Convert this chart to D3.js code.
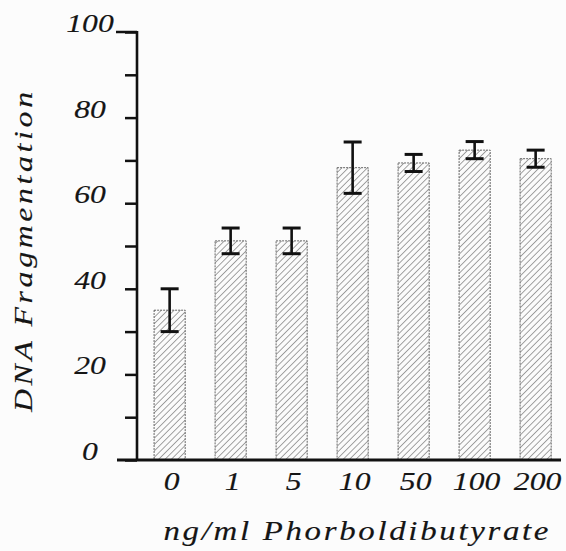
<!DOCTYPE html>
<html><head><meta charset="utf-8">
<script src="https://cdn.jsdelivr.net/npm/d3@7"></script>
<style>
html,body{margin:0;padding:0;background:#fcfcfc;}
text{font-family:"Liberation Serif",serif;font-style:italic;fill:#151515;stroke:#151515;stroke-width:0.15px;}
</style></head>
<body><svg id="c" width="566" height="551"></svg>
<script>
const categories = ["0","1","5","10","50","100","200"];
const values = [35.0, 51.2, 51.2, 68.3, 69.4, 72.4, 70.4];
const errors = [5.0, 3.0, 3.0, 6.0, 2.0, 2.0, 2.0];
const yTickValues = [0,10,20,30,40,50,60,70,80,90,100];
const yTickLabels = [0,20,40,60,80,100];
const yTitle = "DNA  Fragmentation";
const xTitle = "ng/ml  Phorboldibutyrate";

const svg = d3.select("#c");
const y = d3.scaleLinear().domain([0,100]).range([460,32]);
const x = d3.scaleBand().domain(categories).range([137, 137 + 61*7.07]).paddingInner(0.49).paddingOuter(0.28);
const SX = 1.22; // horizontal widening of glyphs

// hatch pattern
const defs = svg.append("defs");
const pat = defs.append("pattern").attr("id","hatch").attr("patternUnits","userSpaceOnUse")
  .attr("width",4.5).attr("height",4.5).attr("patternTransform","rotate(45)");
pat.append("rect").attr("width",4.5).attr("height",4.5).attr("fill","#fbfbfb");
pat.append("line").attr("x1",0).attr("y1",0).attr("x2",0).attr("y2",4.5)
  .attr("stroke","#5a5a5a").attr("stroke-width",1.1);

// bars
svg.append("g").selectAll("rect").data(values).join("rect")
  .attr("x",(d,i)=>x(categories[i]))
  .attr("y",d=>y(d))
  .attr("width",x.bandwidth())
  .attr("height",d=>y(0)-y(d))
  .attr("fill","url(#hatch)")
  .attr("stroke","#666").attr("stroke-width",1).attr("stroke-dasharray","2,1");

// error bars
const eb = svg.append("g").attr("stroke","#111").attr("fill","none");
values.forEach((v,i)=>{
  const cx = x(categories[i]) + x.bandwidth()/2;
  eb.append("line").attr("x1",cx).attr("x2",cx).attr("y1",y(v+errors[i])).attr("y2",y(v-errors[i])).attr("stroke-width",2.6);
  [v+errors[i], v-errors[i]].forEach(e=>{
    eb.append("line").attr("x1",cx-9).attr("x2",cx+9).attr("y1",y(e)).attr("y2",y(e)).attr("stroke-width",3);
  });
});

// y axis
const yAxis = d3.axisLeft(y).tickValues(yTickValues).tickSize(12).tickFormat("");
const ga = svg.append("g").attr("transform","translate(137,0)").call(yAxis);
ga.select(".domain").remove();
ga.selectAll(".tick line").attr("stroke","#111").attr("stroke-width",2.5);
svg.append("line").attr("x1",137).attr("x2",137).attr("y1",y(100)-1).attr("y2",y(0))
  .attr("stroke","#111").attr("stroke-width",2.6);
svg.append("line").attr("x1",116).attr("x2",137).attr("y1",y(100)).attr("y2",y(100))
  .attr("stroke","#111").attr("stroke-width",2.5);
// x axis baseline
svg.append("line").attr("x1",117).attr("x2",561).attr("y1",y(0)).attr("y2",y(0))
  .attr("stroke","#111").attr("stroke-width",3);

// y tick labels
svg.append("g").selectAll("text").data(yTickLabels).join("text")
  .attr("transform",d=>`translate(90,${y(d)}) scale(${SX},1)`).attr("text-anchor","middle")
  .attr("font-size",26).text(d=>d);

// x tick labels
svg.append("g").selectAll("text").data(categories).join("text")
  .attr("transform",d=>`translate(${x(d)+x.bandwidth()/2+2},490) scale(${SX},1)`).attr("text-anchor","middle")
  .attr("font-size",26).text(d=>d);

// titles
svg.append("text").attr("transform",`translate(32,252) rotate(-90) scale(${SX},1)`).attr("text-anchor","middle")
  .attr("font-size",26).attr("textLength",320/SX).attr("lengthAdjust","spacing").text(yTitle);
svg.append("text").attr("transform",`translate(356,540) scale(${SX},1)`).attr("text-anchor","middle")
  .attr("font-size",27).attr("textLength",385/SX).attr("lengthAdjust","spacing").text(xTitle);
</script></body></html>
